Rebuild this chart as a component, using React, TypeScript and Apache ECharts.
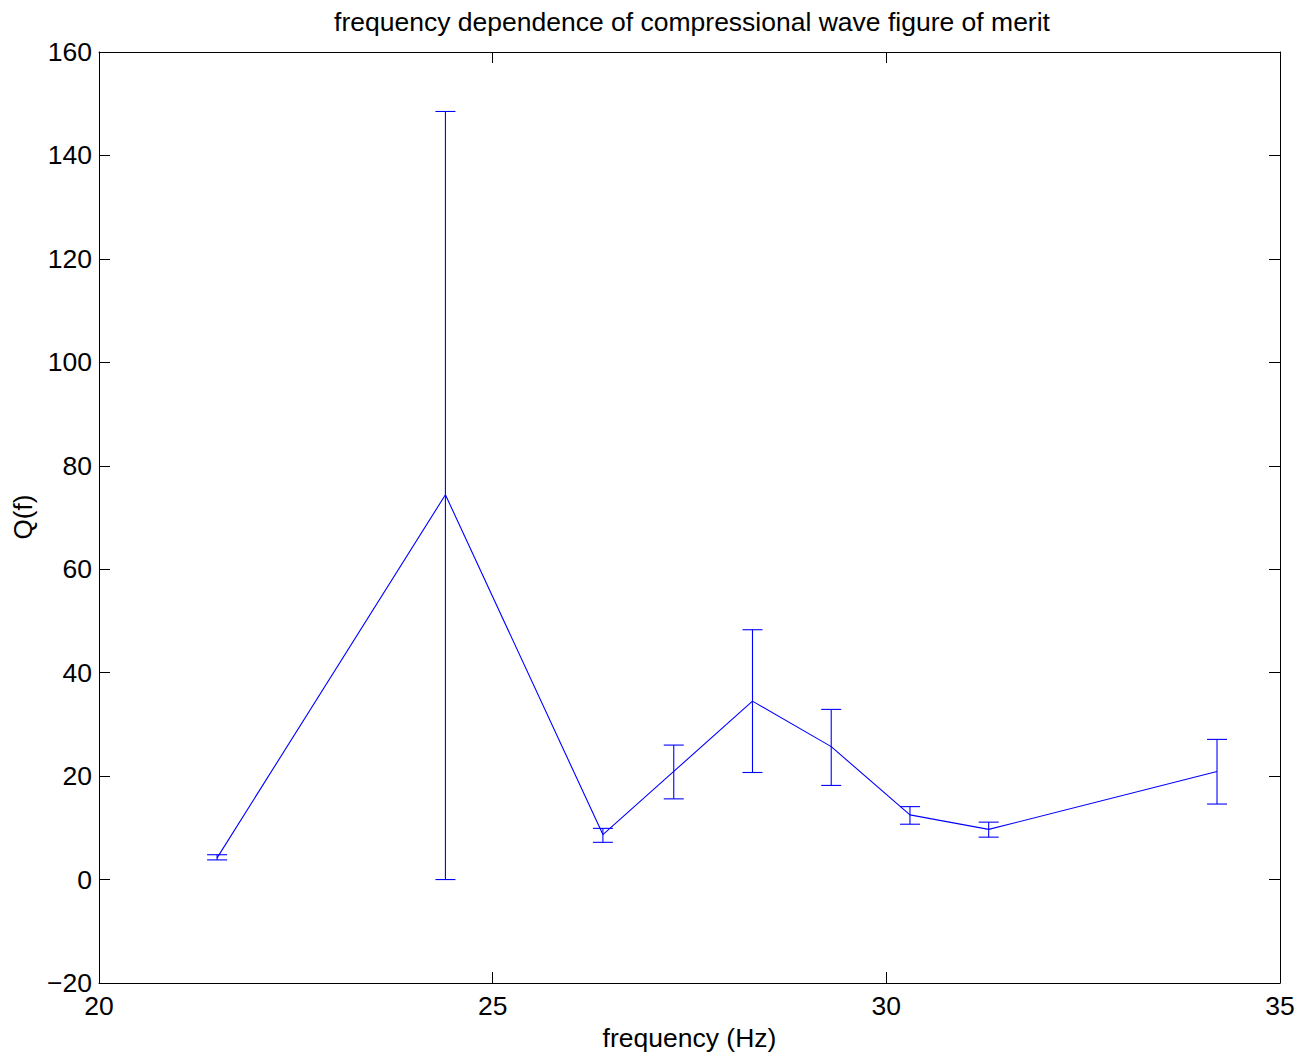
import React, { useEffect, useRef } from "react";
import * as echarts from "echarts";

const freq = [21.5, 24.4, 26.4, 27.3, 28.3, 29.3, 30.3, 31.3, 34.2];
const q = [4.2, 74.4, 8.7, 20.9, 34.5, 25.7, 12.5, 9.7, 20.9];
const qLow = [3.8, 0, 7.2, 15.6, 20.7, 18.2, 10.7, 8.2, 14.6];
const qHigh = [4.8, 148.5, 9.9, 26.0, 48.3, 32.9, 14.1, 11.1, 27.1];

const titleText = "frequency dependence of compressional wave figure of merit";
const xName = "frequency (Hz)";
const yName = "Q(f)";

const FONT = "'Liberation Sans', Arial, Helvetica, sans-serif";
const BLUE = "#0000ff";

export default function App() {
  const ref = useRef<HTMLDivElement>(null);
  useEffect(() => {
    if (!ref.current) return;
    const chart = echarts.init(ref.current, undefined, { renderer: "svg" });
    const axisCommon = {
      axisLine: { show: true, onZero: false, lineStyle: { color: "#000", width: 1 } },
      axisTick: { show: true, inside: true, length: 11, lineStyle: { color: "#000", width: 1 } },
      splitLine: { show: false },
    };
    const fmt = (v: number) => (v < 0 ? "\u2212" + Math.abs(v) : String(v));
    chart.setOption({
      animation: false,
      backgroundColor: "#fff",
      grid: { left: 99, right: 30, top: 52, bottom: 76, containLabel: false },
      xAxis: [
        {
          type: "value", min: 20, max: 35, interval: 5, position: "bottom",
          ...axisCommon,
          axisLabel: { show: true, color: "#000", fontFamily: FONT, fontSize: 26.5, margin: 9, formatter: fmt },
        },
        {
          type: "value", min: 20, max: 35, interval: 5, position: "top",
          ...axisCommon,
          axisLabel: { show: false },
        },
      ],
      yAxis: [
        {
          type: "value", min: -20, max: 160, interval: 20, position: "left",
          ...axisCommon,
          axisLabel: { show: true, color: "#000", fontFamily: FONT, fontSize: 26.5, margin: 7, formatter: fmt },
        },
        {
          type: "value", min: -20, max: 160, interval: 20, position: "right",
          ...axisCommon,
          axisLabel: { show: false },
        },
      ],
      graphic: [
        {
          type: "text", x: 692, y: 22,
          style: { text: titleText, fill: "#000", font: `26.5px ${FONT}`, align: "center", verticalAlign: "middle" },
        },
        {
          type: "text", x: 689.5, y: 1038,
          style: { text: xName, fill: "#000", font: `26.5px ${FONT}`, align: "center", verticalAlign: "middle" },
        },
        {
          type: "text", x: 23, y: 517, rotation: Math.PI / 2,
          style: { text: yName, fill: "#000", font: `26px ${FONT}`, align: "center", verticalAlign: "middle" },
        },
      ],
      series: [
        {
          type: "line",
          data: freq.map((f, i) => [f, q[i]]),
          showSymbol: false,
          symbol: "none",
          lineStyle: { color: BLUE, width: 1.1 },
          itemStyle: { color: BLUE },
          z: 3,
        },
        {
          type: "custom",
          data: freq.map((f, i) => [f, qLow[i], qHigh[i]]),
          renderItem: (params: any, api: any) => {
            const x = api.value(0);
            const top = api.coord([x, api.value(2)]);
            const bot = api.coord([x, api.value(1)]);
            const cw = 10;
            const style = { stroke: BLUE, lineWidth: 1.1 };
            return {
              type: "group",
              children: [
                { type: "line", shape: { x1: top[0], y1: top[1], x2: bot[0], y2: bot[1] }, style },
                { type: "line", shape: { x1: top[0] - cw, y1: top[1], x2: top[0] + cw, y2: top[1] }, style },
                { type: "line", shape: { x1: bot[0] - cw, y1: bot[1], x2: bot[0] + cw, y2: bot[1] }, style },
              ],
            };
          },
          encode: { x: 0, y: [1, 2] },
          z: 4,
        },
      ],
    });
    return () => chart.dispose();
  }, []);
  return (
    <div
      ref={ref}
      style={{ position: "absolute", left: 0, top: 0, width: 1310, height: 1059, background: "#fff" }}
    />
  );
}
